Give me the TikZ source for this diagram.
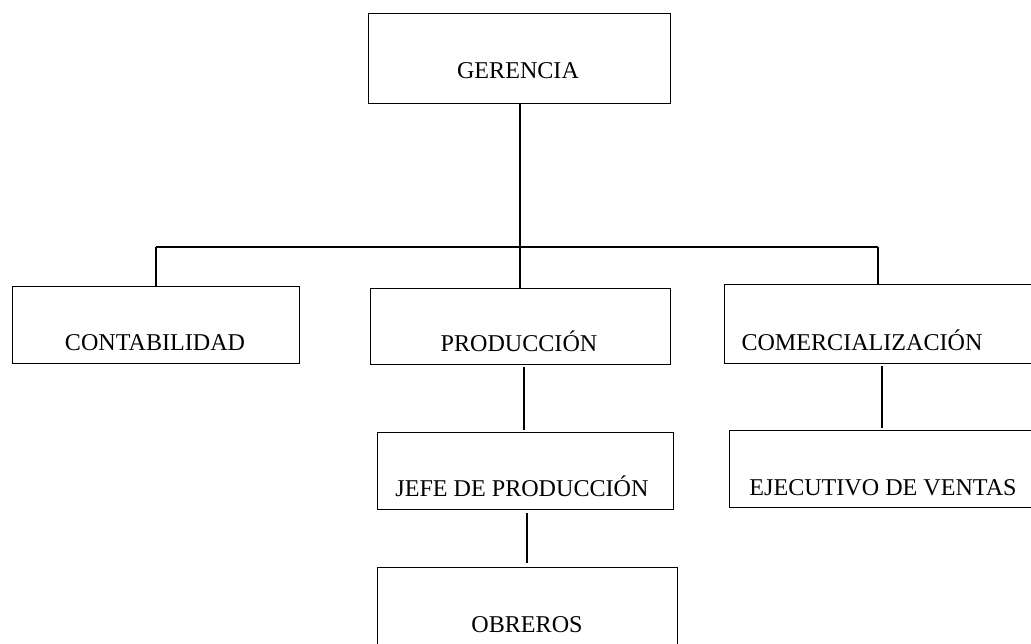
\documentclass[tikz,border=0pt]{standalone}
\usepackage{fontspec}
\setmainfont{Liberation Serif}
\begin{document}
\begin{tikzpicture}[x=1pt,y=-1pt,
  box/.style={draw, line width=1.3pt, rectangle, inner sep=0pt, anchor=north west},
  lbl/.style={font=\fontsize{24.1}{28}\selectfont, inner sep=0pt, anchor=base},
  conn/.style={line width=2pt}]
\useasboundingbox (0,0) rectangle (1031,644);
\clip (0,0) rectangle (1031,644);
\fill[white] (0,0) rectangle (1031,644);
% boxes
\node[box, minimum width=302pt, minimum height=90pt] (ger) at (368,13) {};
\node[box, minimum width=287pt, minimum height=77pt] (cont) at (12,286) {};
\node[box, minimum width=300pt, minimum height=76pt] (prod) at (370,288) {};
\node[box, minimum width=320pt, minimum height=79pt] (com) at (724,284) {};
\node[box, minimum width=296pt, minimum height=77pt] (jefe) at (377,432) {};
\node[box, minimum width=320pt, minimum height=77pt] (ejec) at (729,430) {};
\node[box, minimum width=300pt, minimum height=120pt] (obr) at (377,567) {};
% labels
\node[lbl] (tger) at (518,79) {GERENCIA};
\node[lbl] (tcont) at (155,351) {CONTABILIDAD};
\node[lbl] (tprod) at (519,352) {PRODUCCIÓN};
\node[lbl] (tcom) at (862,351) {COMERCIALIZACIÓN};
\node[lbl] (tjefe) at (522,496) {JEFE DE PRODUCCIÓN};
\node[lbl] (tejec) at (883,495) {EJECUTIVO DE VENTAS};
\node[lbl] (tobr) at (527,632) {OBREROS};
% connectors
\coordinate (busL) at (156,247);
\coordinate (busR) at (878,247);
\draw[conn] (ger.south) -- (ger.south |- prod.north);
\draw[conn] (busL) -- (busR);
\draw[conn] (busL) -- (busL |- cont.north);
\draw[conn] (busR) -- (busR |- com.north);
\coordinate (p1) at ([xshift=3pt,yshift=-2pt]prod.south);
\draw[conn] (p1) -- ([yshift=2pt]p1 |- jefe.north);
\coordinate (j1) at ([xshift=1pt,yshift=-3pt]jefe.south);
\draw[conn] (j1) -- ([yshift=4pt]j1 |- obr.north);
\coordinate (c1) at (882,366);
\draw[conn] (c1) -- ([yshift=2pt]c1 |- ejec.north);
\end{tikzpicture}
\end{document}
